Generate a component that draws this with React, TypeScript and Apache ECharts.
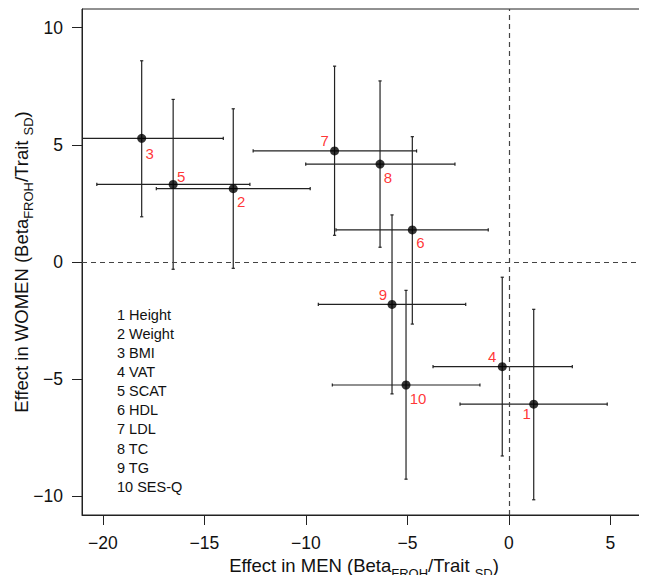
import React, { useEffect, useRef } from "react";
import * as echarts from "echarts";

const traitIds = ["1", "2", "3", "4", "5", "6", "7", "8", "9", "10"];
const traitNames = ["Height", "Weight", "BMI", "VAT", "SCAT", "HDL", "LDL", "TC", "TG", "SES-Q"];
const menEst = [1.22, -13.58, -18.09, -0.33, -16.54, -4.76, -8.59, -6.35, -5.76, -5.07];
const menLo = [-2.41, -17.37, -22.11, -3.74, -20.3, -8.52, -12.6, -10.01, -9.39, -8.7];
const menHi = [4.84, -9.79, -14.07, 3.12, -12.76, -1.02, -4.55, -2.66, -2.13, -1.43];
const womenEst = [-6.07, 3.13, 5.28, -4.47, 3.31, 1.37, 4.74, 4.18, -1.81, -5.25];
const womenLo = [-10.15, -0.27, 1.93, -8.28, -0.31, -2.65, 1.14, 0.63, -5.63, -9.27];
const womenHi = [-2.02, 6.54, 8.59, -0.65, 6.94, 5.35, 8.36, 7.73, 2.01, -1.21];
// label offsets (px) relative to each point
const labelOffsets = [[-7, 9], [8, 13], [8, 15], [-10, -10], [8, -8], [8, 13], [-10, -10], [8, 13], [-9, -10], [12, 14]];
const xTicks = [-20, -15, -10, -5, 0, 5];
const yTicks = [-10, -5, 0, 5, 10];

const FONT = "'Liberation Sans', Arial, Helvetica, sans-serif";
const minus = (v: number) => String(v).replace("-", "\u2212");

export default function App() {
  const ref = useRef<HTMLDivElement>(null);
  useEffect(() => {
    if (!ref.current) return;
    const chart = echarts.init(ref.current, null, { renderer: "svg" });
    const errData = menEst.map((x, i) => [x, womenEst[i], menLo[i], menHi[i], womenLo[i], womenHi[i]]);
    const ptData = menEst.map((x, i) => ({
      value: [x, womenEst[i]],
      label: { offset: labelOffsets[i] },
    }));
    const richName = {
      m: { fontSize: 18.5, fontFamily: FONT, color: "#111", lineHeight: 28, verticalAlign: "middle" },
      s: { fontSize: 13, fontFamily: FONT, color: "#111", lineHeight: 12.5, verticalAlign: "bottom" },
    };
    chart.setOption({
      animation: false,
      grid: { left: 82, top: 9, right: 1, bottom: 68, show: true, borderColor: "#222", borderWidth: 1, containLabel: false, outerBoundsMode: "none" },
      xAxis: {
        type: "value",
        min: -21.03,
        max: 6.75,
        splitLine: { show: false },
        axisLine: { show: true, onZero: false, lineStyle: { color: "#222", width: 1 } },
        axisTick: { show: true, customValues: xTicks, length: 10, lineStyle: { color: "#222" } },
        axisLabel: { customValues: xTicks, formatter: minus, margin: 19, fontSize: 17.5, color: "#111", fontFamily: FONT },
        name: "{m|Effect in MEN (Beta}{s|FROH}{m|/Trait }{s|SD}{m|)}",
        nameLocation: "middle",
        nameGap: 36.5,
        nameMoveOverlap: false,
        nameTextStyle: { rich: richName },
      },
      yAxis: {
        type: "value",
        min: -10.8,
        max: 10.8,
        splitLine: { show: false },
        axisLine: { show: true, onZero: false, lineStyle: { color: "#222", width: 1 } },
        axisTick: { show: true, customValues: yTicks, length: 10, lineStyle: { color: "#222" } },
        axisLabel: { customValues: yTicks, formatter: minus, margin: 19, fontSize: 17.5, color: "#111", fontFamily: FONT },
        name: "{m|Effect in WOMEN (Beta}{s|FROH}{m|/Trait }{s|SD}{m|)}",
        nameLocation: "middle",
        nameGap: 47,
        nameMoveOverlap: false,
        nameTextStyle: { rich: richName },
      },
      series: [
        {
          type: "custom",
          data: errData,
          silent: true,
          z: 2,
          renderItem: (params: any, api: any) => {
            const x = api.value(0), y = api.value(1);
            const cs = params.coordSys;
            const c = api.coord([x, y]);
            const xl = api.coord([api.value(2), y])[0];
            const xh = api.coord([api.value(3), y])[0];
            const yl = api.coord([x, api.value(4)])[1];
            const yh = api.coord([x, api.value(5)])[1];
            const left = cs.x, right = cs.x + cs.width, top = cs.y, bottom = cs.y + cs.height;
            const cxl = Math.max(xl, left), cxh = Math.min(xh, right);
            const cyl = Math.min(yl, bottom), cyh = Math.max(yh, top);
            const cap = 1.6;
            const style = { stroke: "#222", lineWidth: 1.2 };
            const kids: any[] = [
              { type: "line", shape: { x1: cxl, y1: c[1], x2: cxh, y2: c[1] }, style },
              { type: "line", shape: { x1: c[0], y1: cyl, x2: c[0], y2: cyh }, style },
            ];
            if (xl >= left) kids.push({ type: "line", shape: { x1: xl, y1: c[1] - cap, x2: xl, y2: c[1] + cap }, style });
            if (xh <= right) kids.push({ type: "line", shape: { x1: xh, y1: c[1] - cap, x2: xh, y2: c[1] + cap }, style });
            if (yl <= bottom) kids.push({ type: "line", shape: { x1: c[0] - cap, y1: yl, x2: c[0] + cap, y2: yl }, style });
            if (yh >= top) kids.push({ type: "line", shape: { x1: c[0] - cap, y1: yh, x2: c[0] + cap, y2: yh }, style });
            return { type: "group", children: kids };
          },
        },
        {
          type: "scatter",
          data: ptData,
          symbol: "circle",
          symbolSize: 9,
          z: 3,
          silent: true,
          itemStyle: { color: "#000" },
          label: {
            show: true,
            position: "inside",
            formatter: (p: any) => traitIds[p.dataIndex],
            color: "#ff0000",
            fontSize: 15,
            fontFamily: FONT,
          },
          markLine: {
            silent: true,
            symbol: "none",
            label: { show: false },
            lineStyle: { type: [5, 4], color: "#444", width: 1.2 },
            data: [{ xAxis: 0 }, { yAxis: 0 }],
          },
        },
      ],
      graphic: [
        {
          type: "text",
          left: 117,
          top: 305,
          style: {
            text: traitIds.map((id, i) => `${id} ${traitNames[i]}`).join("\n"),
            fontSize: 14.5,
            lineHeight: 19.15,
            fontFamily: FONT,
            fill: "#111",
          },
        },
      ],
    });
    return () => chart.dispose();
  }, []);
  return <div ref={ref} style={{ width: 647, height: 583, margin: -8 }} />;
}
